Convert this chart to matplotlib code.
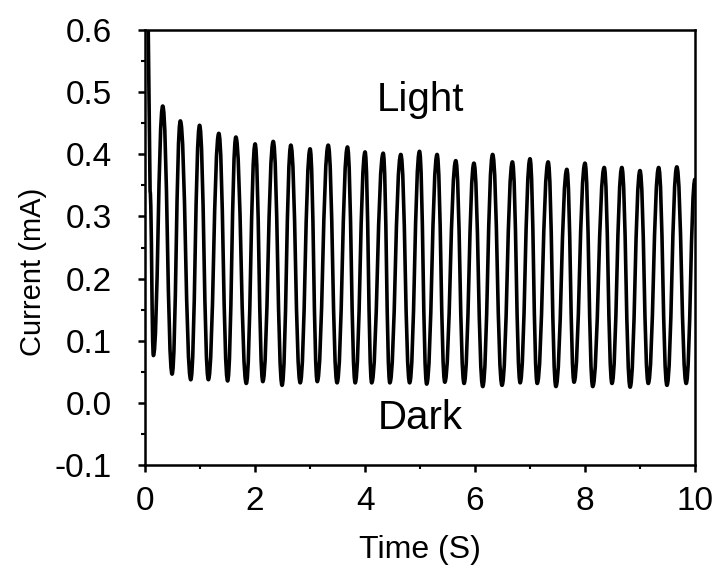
import matplotlib
matplotlib.use("Agg")
import matplotlib.pyplot as plt
from matplotlib.path import Path
from matplotlib.patches import PathPatch
from matplotlib.ticker import MultipleLocator

plt.rcParams['font.family'] = ['Liberation Sans', 'DejaVu Sans']

# initial switch-on spike (time s, current mA)
spike_t = [0.05, 0.09]
spike_i = [0.65, 0.34]

# light-on maxima
peak_t = [0.32, 0.64, 0.99, 1.34, 1.65, 2.00, 2.33, 2.65, 3.00, 3.33,
          3.68, 4.00, 4.33, 4.65, 4.99, 5.31, 5.65, 5.98, 6.32, 6.68,
          7.00, 7.33, 7.67, 8.00, 8.35, 8.67, 9.00, 9.34, 9.67]
peak_i = [0.478, 0.454, 0.447, 0.434, 0.428, 0.417, 0.421, 0.415, 0.409, 0.415,
          0.412, 0.404, 0.402, 0.400, 0.405, 0.400, 0.390, 0.386, 0.400, 0.388,
          0.393, 0.388, 0.376, 0.386, 0.379, 0.379, 0.374, 0.379, 0.380]

# light-off minima
trough_t = [0.15, 0.49, 0.83, 1.15, 1.50, 1.84, 2.14, 2.49, 2.82, 3.13,
            3.49, 3.82, 4.12, 4.45, 4.81, 5.12, 5.45, 5.80, 6.14, 6.49,
            6.82, 7.13, 7.47, 7.80, 8.14, 8.49, 8.82, 9.15, 9.49, 9.84]
trough_i = [0.076, 0.046, 0.037, 0.037, 0.035, 0.031, 0.034, 0.028, 0.032, 0.034,
            0.032, 0.032, 0.032, 0.032, 0.032, 0.030, 0.033, 0.031, 0.026, 0.028,
            0.032, 0.031, 0.026, 0.033, 0.026, 0.031, 0.025, 0.031, 0.028, 0.031]

# last sample at the right edge
end_t, end_i = 10.0, 0.36

# merge extrema in time order
ext = [(spike_t[1], spike_i[1])]
for k in range(len(trough_t)):
    ext.append((trough_t[k], trough_i[k]))
    if k < len(peak_t):
        ext.append((peak_t[k], peak_i[k]))
ext.append((end_t, end_i))

verts = [(spike_t[0], spike_i[0]), ext[0]]
codes = [Path.MOVETO, Path.LINETO]
for (t0, v0), (t1, v1) in zip(ext[:-1], ext[1:]):
    d = (t1 - t0) * 0.45
    verts += [(t0 + d, v0), (t1 - d, v1), (t1, v1)]
    codes += [Path.CURVE4] * 3

fig = plt.figure(figsize=(7.15, 5.71), dpi=100)
ax = fig.add_axes([0.203, 0.186, 0.769, 0.761])
ax.add_patch(PathPatch(Path(verts, codes), fill=False, lw=2.6, color='black',
                       joinstyle='round', capstyle='round'))

ax.set_xlim(0, 10)
ax.set_ylim(-0.1, 0.6)
ax.xaxis.set_major_locator(MultipleLocator(2))
ax.xaxis.set_minor_locator(MultipleLocator(1))
ax.yaxis.set_minor_locator(MultipleLocator(0.05))
ax.set_yticks([-0.1, 0.0, 0.1, 0.2, 0.3, 0.4, 0.5, 0.6])
ax.set_yticklabels(['-0.1', '0.0', '0.1', '0.2', '0.3', '0.4', '0.5', '0.6'])
ax.tick_params(which='major', direction='out', length=5, width=1.8, labelsize=24)
ax.tick_params(axis='y', which='major', pad=19)
ax.tick_params(axis='x', which='major', pad=10)
ax.tick_params(which='minor', direction='out', length=3, width=1.5)
for s in ax.spines.values():
    s.set_linewidth(1.8)

ax.set_xlabel('Time (S)', fontsize=23, labelpad=13)
ax.set_ylabel('Current (mA)', fontsize=21)
ax.yaxis.set_label_coords(-0.178, 0.445)

ax.text(5.0, 0.487, 'Light', fontsize=29, ha='center', va='center')
ax.text(5.0, -0.024, 'Dark', fontsize=29, ha='center', va='center')

fig.savefig('out.png', dpi=100)
